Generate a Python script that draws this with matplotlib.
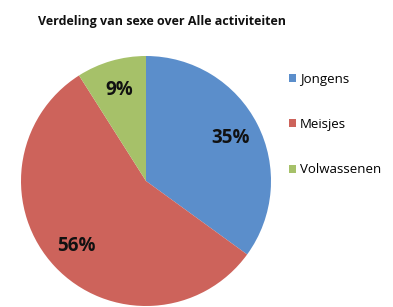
import matplotlib
matplotlib.use("Agg")
import matplotlib.pyplot as plt
from matplotlib.patches import Patch

labels = ["Jongens", "Meisjes", "Volwassenen"]
values = [35, 56, 9]
colors = ["#5B8ECB", "#CD635B", "#A6C169"]
title = "Verdeling van sexe over Alle activiteiten"

plt.rcParams["font.family"] = ["Open Sans", "DejaVu Sans"]

fig = plt.figure(figsize=(3.93, 3.07), dpi=100)
ax = fig.add_axes([0, 0, 1, 1])
wedges, texts, autotexts = ax.pie(
    values, colors=colors, startangle=90, counterclock=False,
    center=(146, 126), radius=125, autopct="%1.0f%%", pctdistance=0.76,
    textprops={"fontsize": 13.5, "fontweight": "bold", "color": "#111111"},
    wedgeprops={"linewidth": 0})
ax.set_xlim(0, 393)
ax.set_ylim(0, 307)
ax.set_aspect("auto")
ax.axis("off")

fig.text(38 / 393, 1 - 22 / 307, title, fontsize=9, fontweight="bold",
         va="center", ha="left", color="#111111")

handles = [Patch(facecolor=c, edgecolor="none") for c in colors]
fig.legend(handles, labels, loc="upper left", bbox_to_anchor=(282 / 393, 1 - 66 / 307),
           frameon=False, fontsize=9.5, handlelength=0.55, handleheight=0.55,
           handletextpad=0.3, labelspacing=2.45, borderpad=0)

fig.savefig("out.png", dpi=100)
